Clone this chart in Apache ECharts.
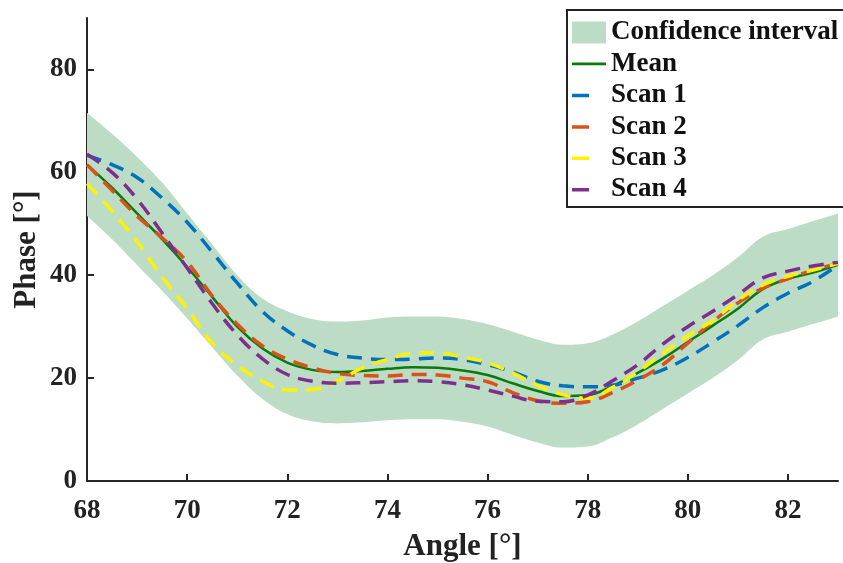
<!DOCTYPE html>
<html>
<head>
<meta charset="utf-8">
<script src="https://cdn.jsdelivr.net/npm/echarts@6/dist/echarts.min.js"></script>
<style>
html,body{margin:0;padding:0;background:#fff;}
#chart{width:843px;height:563px;}
</style>
</head>
<body>
<div id="chart"></div>
<script>
const angles = ['68','68.5','69','69.5','70','70.5','71','71.5','72','72.5','73','73.5','74','74.5','75','75.5','76','76.5','77','77.5','78','78.5','79','79.5','80','80.5','81','81.5','82','82.5','83'];
const meanVals  = [61.5,57,52,47,41.6,35.8,30,25.8,23,21.6,21.2,21.4,21.8,22.1,22,21.5,20.6,19,17.5,16.5,16.7,18.5,21,23.8,27,30.2,33.5,37.3,39.3,40.5,42];
const upperVals = [71.6,67.5,63,58,52,46,40,35.5,33,31.5,31,31.2,31.8,32,32,31.5,30.5,29,27.5,26.5,26.8,28.5,31,34,37,40,43.5,47.5,49,50.5,52];
const lowerVals = [51.5,47,42,37,31.6,26,20.5,16,13,11.6,11.2,11.4,11.8,12,12,11.5,10.6,9,7.5,6.5,6.7,8.5,11,14,17,20,23.5,27.5,29,30.5,32];
const scan1 = [63.3,61.5,59,55,50.3,44.5,38.5,33,29.2,26.4,24.6,23.9,23.6,23.7,23.9,23.6,22.6,21.2,19.4,18.5,18.3,18.6,20,21.6,24,27,30.2,33.7,36.5,38.8,42];
const scan2 = [61.5,56.5,51.5,47.3,42.6,36,30.5,26.3,23.7,22,20.9,20.5,20.4,20.7,20.6,20,19.3,17.2,15.6,15.1,15.4,17.2,19.6,22.6,26.8,31,34.6,37.5,39.3,41,42.3];
const scan3 = [57.8,52.5,46.5,39.7,33.5,26.8,22.5,19.4,17.7,17.8,19.4,22,23.6,24.8,24.9,24.1,23,21,18.6,16.8,16.1,18.2,21.2,24.8,28.2,31.2,35.1,38.1,39.8,41,42.3];
const scan4 = [63.5,60,54.8,48.2,41.4,34.5,28.4,23.8,20.7,19.4,19,19.1,19.3,19.5,19.3,18.7,17.7,16.5,15.5,15.4,16.7,19.5,22.6,26.6,30,33,36.2,39.5,40.8,41.8,42.5];
const xTickLabels = ['68','70','72','74','76','78','80','82'];
const yTicks = [0,20,40,60,80];
const legendNames = ['Confidence interval','Mean','Scan 1','Scan 2','Scan 3','Scan 4'];

const FONT = '"Liberation Serif","Times New Roman",serif';
const SM = 0.4;
const scanColors = ['#0072BD','#D95319','#FFF200','#7E2F8E'];
const scans = [scan1,scan2,scan3,scan4];
const bandColor = '#bddcc5';
const meanColor = '#0a7a0a';

const series = [
  {
    name:'lower', type:'line', stack:'ci', data:lowerVals, smooth:SM,
    symbol:'none', lineStyle:{opacity:0}, silent:true, z:1
  },
  {
    name:legendNames[0], type:'line', stack:'ci',
    data:upperVals.map((u,i)=>u-lowerVals[i]), smooth:SM,
    symbol:'none', lineStyle:{opacity:0},
    itemStyle:{color:bandColor},
    areaStyle:{color:bandColor, opacity:1}, z:1
  },
  {
    name:legendNames[1], type:'line', data:meanVals, smooth:SM,
    symbol:'none', itemStyle:{color:meanColor},
    lineStyle:{color:meanColor, width:2.5}, z:2
  }
];
scans.forEach((s,k)=>{
  series.push({
    name:legendNames[k+2], type:'line', data:s, smooth:SM,
    symbol:'none', itemStyle:{color:scanColors[k]},
    lineStyle:{color:scanColors[k], width:3.5, type:[15,9]}, z:3+k
  });
});

const dashIcon = 'path://M0,9.5H17V13H0Z M34,0L34,22Z';
const chart = echarts.init(document.getElementById('chart'), null, {renderer:'canvas'});
chart.setOption({
  animation:false,
  backgroundColor:'#fff',
  grid:{left:87, right:5, top:18, bottom:82, outerBoundsMode:'none', containLabel:false},
  xAxis:{
    type:'category', data:angles, boundaryGap:false,
    name:'Angle [°]', nameLocation:'middle', nameGap:50, nameMoveOverlap:false,
    nameTextStyle:{fontFamily:FONT, fontWeight:'bold', fontSize:31, color:'#222'},
    axisLine:{lineStyle:{color:'#262626', width:2}},
    axisTick:{inside:true, length:7, interval:(i,v)=>xTickLabels.includes(v), lineStyle:{color:'#262626', width:2}},
    axisLabel:{fontFamily:FONT, fontWeight:'bold', fontSize:27, color:'#222', margin:17, interval:(i,v)=>xTickLabels.includes(v)},
    splitLine:{show:false}
  },
  yAxis:{
    type:'value', min:0, max:90, interval:20,
    name:'Phase [°]', nameLocation:'middle', nameGap:45, nameMoveOverlap:false,
    nameTextStyle:{fontFamily:FONT, fontWeight:'bold', fontSize:31, color:'#222'},
    axisLine:{show:true, lineStyle:{color:'#262626', width:2}},
    axisTick:{show:true, inside:true, length:7, lineStyle:{color:'#262626', width:2}, customValues:yTicks},
    axisLabel:{fontFamily:FONT, fontWeight:'bold', fontSize:27, color:'#222', margin:10, customValues:yTicks},
    splitLine:{show:false}
  },
  legend:{
    orient:'vertical', left:567, top:10,
    backgroundColor:'#fff', borderColor:'#222', borderWidth:2, borderRadius:0,
    padding:[9,14,4,5], itemGap:4.4, itemWidth:34, itemHeight:22,
    textStyle:{fontFamily:FONT, fontWeight:'bold', fontSize:27, color:'#111'},
    data:[
      {name:legendNames[0], icon:'rect'},
      {name:legendNames[1], icon:'path://M0,9.6H34V12.4H0Z M0,0L0,22Z'},
      {name:legendNames[2], icon:dashIcon},
      {name:legendNames[3], icon:dashIcon},
      {name:legendNames[4], icon:dashIcon},
      {name:legendNames[5], icon:dashIcon}
    ]
  },
  series:series
});
</script>
</body>
</html>
